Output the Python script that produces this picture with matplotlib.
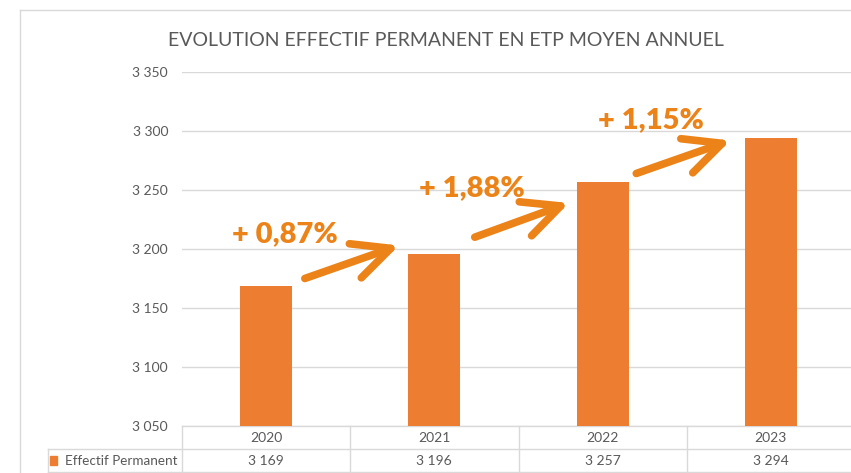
import matplotlib.pyplot as plt
from matplotlib.lines import Line2D
from matplotlib.patches import Rectangle
import matplotlib.transforms as mtransforms

plt.rcParams['font.family'] = ['Lato', 'DejaVu Sans']

years = ['2020', '2021', '2022', '2023']
effectif = [3169, 3196, 3257, 3294]
table_labels = ['3 169', '3 196', '3 257', '3 294']
yticks = [3050, 3100, 3150, 3200, 3250, 3300, 3350]
ytick_labels = ['3 050', '3 100', '3 150', '3 200', '3 250', '3 300', '3 350']
series_name = 'Effectif Permanent'

# evolution labels and arrows (data coords)
evo_labels = ['+ 0,87%', '+ 1,88%', '+ 1,15%']
evo_label_x = [0.11, 1.22, 2.29]
evo_label_y = [3213, 3252, 3309]
arrow_tail = [(0.23, 3175), (1.24, 3210), (2.20, 3264)]
arrow_tip = [(0.79, 3203), (1.80, 3239), (2.76, 3292)]

bar_col = '#ED7D31'
evo_col = '#EC8318'
grid_col = '#D9D9D9'
txt_col = '#595959'

fig = plt.figure(figsize=(8.51, 4.73), dpi=100)
ax = fig.add_axes([182/851, 47/473, 673/851, 354/473])

x = range(len(years))
ax.bar(x, effectif, width=0.31, color=bar_col, zorder=3)
ax.set_xlim(-0.5, 3.5)
ax.set_ylim(3050, 3350)
ax.set_yticks(yticks)
ax.set_yticklabels(ytick_labels, color=txt_col, fontsize=10)
ax.set_xticks([])
ax.tick_params(axis='y', length=0, pad=10)
ax.grid(axis='y', color=grid_col, lw=1, zorder=0)
for s in ax.spines.values():
    s.set_visible(False)

for lab, lx, ly in zip(evo_labels, evo_label_x, evo_label_y):
    ax.text(lx, ly, lab, color=evo_col, fontsize=21, fontweight='heavy',
            ha='center', va='center')
for t, h in zip(arrow_tail, arrow_tip):
    ax.annotate('', xy=h, xytext=t,
                arrowprops=dict(arrowstyle='->,head_length=1.35,head_width=0.65',
                                mutation_scale=20, lw=5.5, color=evo_col,
                                shrinkA=0, shrinkB=0, capstyle='round',
                                joinstyle='round'))

# data table under the plot
tr = mtransforms.blended_transform_factory(ax.transData, ax.transAxes)
r1 = -23/354
r2 = -46/354
xl = -1.294
lk = dict(color=grid_col, lw=1, transform=tr, clip_on=False)
ax.add_line(Line2D([-0.5, 3.6], [0, 0], **lk))
ax.add_line(Line2D([xl, 3.6], [r1, r1], **lk))
ax.add_line(Line2D([xl, 3.6], [r2, r2], **lk))
ax.add_line(Line2D([xl, xl], [r1, r2], **lk))
for b in [-0.5, 0.5, 1.5, 2.5, 3.5]:
    ax.add_line(Line2D([b, b], [0, r2], **lk))
for i, (yr, v) in enumerate(zip(years, table_labels)):
    ax.text(i, r1/2, yr, transform=tr, ha='center', va='center',
            color=txt_col, fontsize=10)
    ax.text(i, (r1+r2)/2, v, transform=tr, ha='center', va='center',
            color=txt_col, fontsize=10)
ax.add_patch(Rectangle((xl+0.012, (r1+r2)/2-0.012), 0.042, 0.024,
                       transform=tr, color=bar_col, clip_on=False))
ax.text(xl+0.1, (r1+r2)/2, series_name, transform=tr, ha='left', va='center',
        color=txt_col, fontsize=9.7)

# chart frame
fig.add_artist(Line2D([20/851, 20/851], [0, 463/473], color=grid_col, lw=1))
fig.add_artist(Line2D([20/851, 1], [463/473, 463/473], color=grid_col, lw=1))

fig.text(446/851, 433/473, 'EVOLUTION EFFECTIF PERMANENT EN ETP MOYEN ANNUEL',
         ha='center', va='center', color=txt_col, fontsize=14)

fig.savefig('out.png', dpi=100)
